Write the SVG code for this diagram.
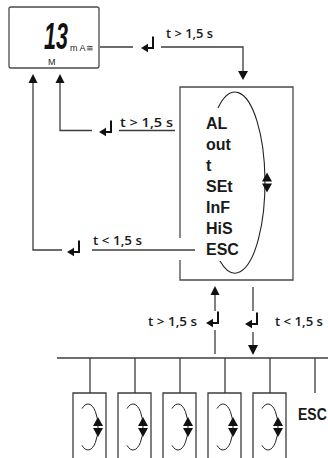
<svg xmlns="http://www.w3.org/2000/svg" xmlns:xlink="http://www.w3.org/1999/xlink" width="328" height="458" viewBox="0 0 328 458">
<style>
.ln{stroke:#3c3c3c;stroke-width:1.3;fill:none}
.bx{stroke:#4a4a4a;stroke-width:1.3;fill:#fff}
.ah{fill:#111;stroke:none}
.lbl{font-family:"Open Sans","Liberation Sans",sans-serif;font-weight:600;font-size:12px;fill:#1a1a1a}
.mn{font-family:"Liberation Sans",Arial,sans-serif;font-weight:700;font-size:16px;fill:#1a1a1a}
.sm{font-family:"Liberation Sans",Arial,sans-serif;font-size:9px;fill:#222}
</style>
<defs>
<g id="ret">
<path d="M0,-11.5V0H-6" fill="none" stroke="#111" stroke-width="2"/>
<polygon points="-12,0 -5,-4.2 -5,4.2" fill="#111"/>
</g>
<g id="dbl">
<polygon points="0,-10 -5,-1 5,-1" fill="#111"/>
<polygon points="0,10 -5,1 5,1" fill="#111"/>
</g>
<g id="sub">
<path class="ln" d="M0,66V0H33V66"/>
<path d="M9,15.6 A10,23 0 1 1 9,52.4" fill="none" stroke="#222" stroke-width="1"/>
</g>
</defs>

<g id="display">
<rect x="9" y="7" width="90" height="61" rx="2" class="bx" stroke="#333"/>
<text transform="translate(44,49) scale(1,1.68)" font-family="Liberation Sans, Arial, sans-serif" font-weight="700" font-style="italic" font-size="21.5" fill="#111">13</text>
<text x="70" y="51" class="sm">m A≅</text>
<text x="48" y="65" class="sm">M</text>
</g>

<g id="menu">
<path class="bx" d="M180,238V87H293V280H180V260" fill="none"/>
<path d="M218,108 A30,90.5 0 1 1 220,261" fill="none" stroke="#222" stroke-width="1.1"/>
<use xlink:href="#dbl" x="267" y="182.5"/>
<text x="206" y="129" class="mn">AL</text>
<text x="206" y="150" class="mn">out</text>
<text x="206" y="171" class="mn">t</text>
<text x="206" y="192" class="mn">SEt</text>
<text x="206" y="213" class="mn">InF</text>
<text x="206" y="234" class="mn">HiS</text>
<text x="206" y="255" class="mn">ESC</text>
</g>

<g id="submenus">
<g id="s1"><use xlink:href="#sub" x="73" y="393"/><use xlink:href="#dbl" x="98" y="427"/></g>
<g id="s2"><use xlink:href="#sub" x="118" y="393"/><use xlink:href="#dbl" x="143" y="427"/></g>
<g id="s3"><use xlink:href="#sub" x="163" y="393"/><use xlink:href="#dbl" x="188" y="427"/></g>
<g id="s4"><use xlink:href="#sub" x="208" y="393"/><use xlink:href="#dbl" x="233" y="427"/></g>
<g id="s5"><use xlink:href="#sub" x="253" y="393"/><use xlink:href="#dbl" x="278" y="427"/></g>
<g id="esc"><text transform="translate(298,420) scale(1,1.2)" class="mn" style="font-size:14px">ESC</text></g>
</g>

<g id="connectors">
<path class="ln" d="M100,47H133"/>
<use xlink:href="#ret" x="153" y="48"/>
<path class="ln" d="M161,47H243V72"/>
<polygon class="ah" points="243,80 238,71 248,71"/>
<text x="166" y="38" class="lbl" textLength="47" lengthAdjust="spacingAndGlyphs">t &gt; 1,5 s</text>

<path class="ln" d="M175,130.5H119"/>
<text x="120" y="127" class="lbl" textLength="53" lengthAdjust="spacingAndGlyphs">t &gt; 1,5 s</text>
<use xlink:href="#ret" x="111" y="132"/>
<path class="ln" d="M92,130.5H60V82"/>
<polygon class="ah" points="60,74 55.5,83 64.5,83"/>

<path class="ln" d="M195,250H92" stroke="#555"/>
<text x="93" y="245" class="lbl" textLength="49" lengthAdjust="spacingAndGlyphs">t &lt; 1,5 s</text>
<use xlink:href="#ret" x="79" y="252"/>
<path class="ln" d="M62,250H33V82"/>
<polygon class="ah" points="33,74 28.5,83 37.5,83"/>

<path class="ln" d="M215,294V311"/>
<polygon class="ah" points="215,286 210.5,295 219.5,295"/>
<use xlink:href="#ret" x="218" y="323"/>
<path class="ln" d="M215,330V354"/>
<text x="148" y="326" class="lbl" textLength="49" lengthAdjust="spacingAndGlyphs">t &gt; 1,5 s</text>

<path class="ln" d="M253,287V311"/>
<use xlink:href="#ret" x="257" y="324"/>
<path class="ln" d="M253,332V346"/>
<polygon class="ah" points="253,355 248,345 258,345"/>
<text x="275" y="326" class="lbl" textLength="48" lengthAdjust="spacingAndGlyphs">t &lt; 1,5 s</text>

<path class="ln" d="M57,358H328"/>
<path class="ln" d="M90,358V393M135,358V393M180,358V393M225,358V393M270,358V393M315,358V393"/>
</g>
</svg>
